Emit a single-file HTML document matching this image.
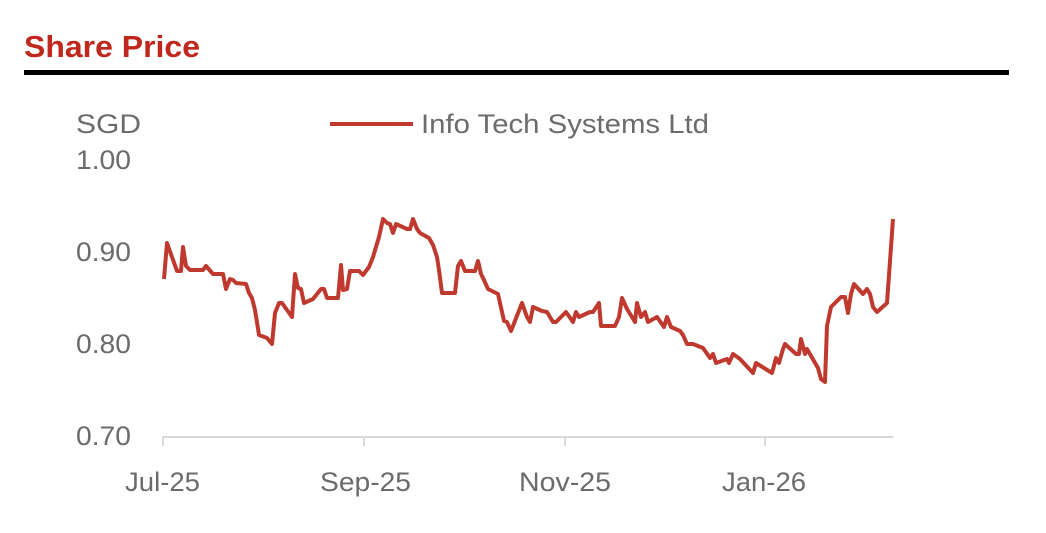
<!DOCTYPE html>
<html><head><style>
body{margin:0;background:#fff;width:1046px;height:528px;overflow:hidden;font-family:"Liberation Sans",sans-serif}
</style></head><body>
<svg width="1046" height="528" xmlns="http://www.w3.org/2000/svg" font-family="Liberation Sans, sans-serif">
<text x="24" y="57" font-size="31" fill="#c0281e" font-weight="bold" textLength="176" lengthAdjust="spacingAndGlyphs">Share Price</text>
<rect x="24" y="70" width="985" height="5" fill="#000"/>
<g fill="#6b6b6b" font-size="27">
<text x="76" y="133" textLength="65" lengthAdjust="spacingAndGlyphs">SGD</text>
<text x="76" y="169" textLength="55" lengthAdjust="spacingAndGlyphs">1.00</text>
<text x="76" y="261" textLength="55" lengthAdjust="spacingAndGlyphs">0.90</text>
<text x="76" y="353" textLength="55" lengthAdjust="spacingAndGlyphs">0.80</text>
<text x="76" y="445" textLength="55" lengthAdjust="spacingAndGlyphs">0.70</text>
<text x="125" y="491" textLength="75" lengthAdjust="spacingAndGlyphs">Jul-25</text>
<text x="320" y="491" textLength="91" lengthAdjust="spacingAndGlyphs">Sep-25</text>
<text x="519" y="491" textLength="92" lengthAdjust="spacingAndGlyphs">Nov-25</text>
<text x="722" y="491" textLength="84" lengthAdjust="spacingAndGlyphs">Jan-26</text>
<text x="421" y="133" textLength="288" lengthAdjust="spacingAndGlyphs">Info Tech Systems Ltd</text>
</g>
<line x1="330" y1="124" x2="413" y2="124" stroke="#c0392f" stroke-width="4"/>
<g stroke="#d9d9d9" stroke-width="2">
<line x1="162" y1="437" x2="893" y2="437"/>
<line x1="163" y1="437" x2="163" y2="446"/>
<line x1="364" y1="437" x2="364" y2="446"/>
<line x1="565" y1="437" x2="565" y2="446"/>
<line x1="765" y1="437" x2="765" y2="446"/>
</g>
<polyline fill="none" stroke="#c0392f" stroke-width="4" stroke-linejoin="round" points="164,279 167,243 177,271 181,271 183,247 186,266 190,270 203,270 206,266 213,274 223,274 226,289 230,279 233,280 236,283 246,284 249,293 252,298 255,310 259,335 267,338 272,344 275,313 279,303 282,303 292,317 295,274 298,288 301,289 304,303 313,299 321,289 324,289 327,298 338,298 341,265 343,290 347,289 350,271 359,271 363,275 369,267 373,257 379,237 383,219 387,223 390,224 393,233 396,224 407,229 410,229 413,219 417,229 420,233 429,238 433,245 437,257 439,270 442,293 455,293 458,266 461,261 465,271 475,271 478,261 481,274 484,280 488,289 498,294 504,321 507,322 511,331 522,303 527,317 530,322 533,307 542,311 547,312 553,322 556,322 566,312 573,322 576,312 579,317 590,312 593,312 599,303 601,326 615,326 619,317 622,298 627,309 635,322 637,303 641,317 645,312 648,322 657,317 664,327 667,317 671,327 680,331 683,335 687,344 693,344 703,348 710,358 713,354 716,363 727,359 729,363 733,354 740,359 753,373 756,363 772,373 776,358 779,363 783,349 785,344 796,354 799,354 801,339 805,354 807,349 818,368 821,379 825,382 827,326 831,307 841,297 845,297 848,313 851,294 854,284 863,294 867,289 870,294 873,307 877,312 887,303 893,219"/>
</svg>
</body></html>
